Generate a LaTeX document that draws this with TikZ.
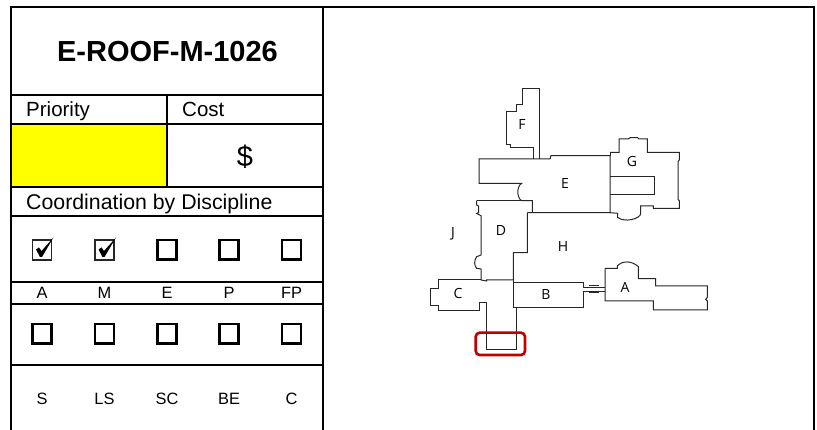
\documentclass[tikz,border=0pt]{standalone}
\usepackage{fontspec}
\setmainfont{Liberation Sans}
\newfontfamily\planfont{Open Sans}
\usepackage{xcolor}
\usepackage{tikz}
\usetikzlibrary{calc}
\definecolor{prioyellow}{RGB}{255,255,0}
\definecolor{keyred}{RGB}{192,0,0}
\tikzset{
    gridline/.style={line width=2pt,black},
    planline/.style={line width=1pt,black!85,line join=miter},
    keybox/.style={line width=2.6pt,keyred,rounded corners=4pt},
    cell/.style={inner sep=0pt,anchor=base west,font=\fontsize{20.5}{22}\selectfont},
    tag/.style={inner sep=0pt,font=\fontsize{16.4}{18}\selectfont},
    wing/.style={inner sep=0pt,font=\planfont\fontsize{14}{16}\selectfont},
    tickbox/.style={line width=2.6pt,black},
    donebox/.style={line width=1.6pt,black!85}
}
\begin{document}
\begin{tikzpicture}[x=1pt,y=-1pt]
    \useasboundingbox (0,0) rectangle (817,430);
    % Yellow priority cell
    \fill[prioyellow] (11,124) rectangle (167,187);

    % Table lines
    \draw[gridline] (11,430) -- (11,7) -- (814,7) -- (814,430);
    \draw[gridline] (323,7) -- (323,430);
    \draw[gridline] (11,95) -- (323,95);
    \draw[gridline] (11,124) -- (323,124);
    \draw[gridline] (11,187) -- (323,187);
    \draw[gridline] (11,216) -- (323,216);
    \draw[gridline] (11,282) -- (323,282);
    \draw[gridline] (11,304) -- (323,304);
    \draw[gridline] (11,365) -- (323,365);
    \draw[gridline] (167,95) -- (167,187);

    % Table text
    \node[inner sep=0pt,font=\fontsize{29}{31}\selectfont\bfseries] (title) at (167.5,52) {E-ROOF-M-1026};
    \node[cell] (priority) at (26,117) {Priority};
    \node[cell] (cost) at (182,117) {Cost};
    \node[inner sep=0pt,font=\fontsize{29}{31}\selectfont] (dollar) at (245,157) {\$};
    \node[cell,font=\fontsize{21.3}{23}\selectfont] (coord) at (26,210) {Coordination by Discipline};

    % Discipline labels
    \foreach \lab/\px in {A/42,M/104.5,E/167,P/229,FP/291.5}
        \node[tag] (top\lab) at (\px,293) {\lab};
    \foreach \lab/\px in {S/42,LS/104.5,SC/167,BE/229,C/291.5}
        \node[tag] (low\lab) at (\px,399) {\lab};

    % Check boxes
    \foreach \px in {167,229,291.5}
        \draw[tickbox] (\px-9.5,240) rectangle (\px+9.5,259.5);
    \foreach \px in {42,104.5,167,229,291.5}
        \draw[tickbox] (\px-9.5,324) rectangle (\px+9.5,343.5);
    \foreach \px in {42,104.5} {
        \draw[donebox] (\px-9.5,240) rectangle (\px+9.5,260);
        \fill[black] (\px-6,249.5) -- (\px-3,247.5) -- (\px-0.5,251) -- (\px+11.5,237.5)
            -- (\px+0,257) -- (\px-2,257) -- cycle;
    }

    % Wing F
    \draw[planline] (533.3,159) -- (533.3,147.7) -- (510.7,147.7) -- (510.7,144.3) -- (506.7,144.3)
        -- (506.7,111.7) -- (516.7,111.7) -- (516.7,104.3) -- (522.3,104.3) -- (522.3,89)
        -- (539,89) -- (539,159);

    % Wing E
    \draw[planline] (532.3,212.7) -- (532.3,200.7) -- (521.7,200.7)
        .. controls (516.5,198) and (516.5,186) .. (521.7,183.3)
        -- (479,183.3) -- (479,159) -- (550,159) -- (551,155.7) -- (610,155.7) -- (610,212.7) -- (527.3,212.7);

    % Wing G
    \draw[planline] (610,152.3) -- (619,152.3) -- (619,139) -- (628.3,139) -- (630,137.7) -- (637.7,137.7)
        -- (639,139) -- (647.3,139) -- (647.3,152.3) -- (679.3,152.3) -- (679.3,160) -- (678,161.7)
        -- (678,199.3) -- (679.3,200.7) -- (679.3,208.3) -- (653.3,208.3) -- (653.3,206) -- (640.7,206)
        -- (640.7,213.3) .. controls (640.7,219) and (624,223) .. (617.7,217.3) -- (617.7,213.3) -- (610,212.7);
    \draw[planline] (610,155.7) -- (610,152.3);
    \draw[planline] (610,176.3) -- (654.3,176.3) -- (654.3,194.3) -- (610,194.3);

    % Wing D
    \draw[planline] (476.7,200.7) -- (532.3,200.7);
    \draw[planline] (476.7,200.7) -- (476.7,205) -- (478.5,206) -- (478.5,212.5) -- (476.7,213.5) -- (481,215.7)
        -- (481,255) -- (476.7,256.7) .. controls (474,260) and (474,266) .. (476.7,268.3)
        -- (481,269) -- (481,280) -- (486.7,281) -- (486.7,280) -- (513.3,280)
        -- (513.3,252.7) -- (527.3,252.7) -- (527.3,212.7);

    % Wing C and the corridor below it
    \draw[planline] (481,279.3) -- (438.3,279.3) -- (438.3,288.7) -- (430,288.7) -- (430,305.7) -- (438.3,305.7)
        -- (438.3,310.7) -- (479.3,310.7) -- (479.3,302.7) -- (486,302.7) -- (486,350) -- (516.7,350)
        -- (516.7,307.3) -- (513.3,307.3) -- (513.3,280);

    % Wing B and link
    \draw[planline] (513.3,282.3) -- (583.3,282.3) -- (583.3,287.7) -- (605,287.7);
    \draw[planline] (605,291.7) -- (583.3,291.7) -- (583.3,307.7) -- (513.3,307.7);
    \draw[planline] (589.3,286) -- (599.3,286) (589.3,292.3) -- (599.3,292.3);

    % Wing A
    \draw[planline] (605,268.3) -- (605,301) -- (653.3,301) -- (653.3,310) -- (707.3,310) -- (707.3,301)
        -- (705.7,299.3) -- (707.3,297.3) -- (707.3,286) -- (655.7,286) -- (655.7,278.7) -- (638.3,278.7)
        -- (638.3,266.7) .. controls (632,260.5) and (622,260.5) .. (617.3,266) -- (617.3,268.3) -- (605,268.3);

    % Wing labels
    \node[wing] (wingF) at (522,125) {F};
    \node[wing] (wingE) at (565,184) {E};
    \node[wing] (wingG) at (632,161.5) {G};
    \node[wing] (wingD) at (501,231) {D};
    \node[wing] (wingJ) at (453,234) {J};
    \node[wing] (wingH) at (563,247) {H};
    \node[wing] (wingC) at (458,294) {C};
    \node[wing] (wingB) at (546,294.5) {B};
    \node[wing] (wingA) at (625,287) {A};

    % Key box
    \draw[keybox] (475.7,332.7) rectangle (525,355);
\end{tikzpicture}
\end{document}
